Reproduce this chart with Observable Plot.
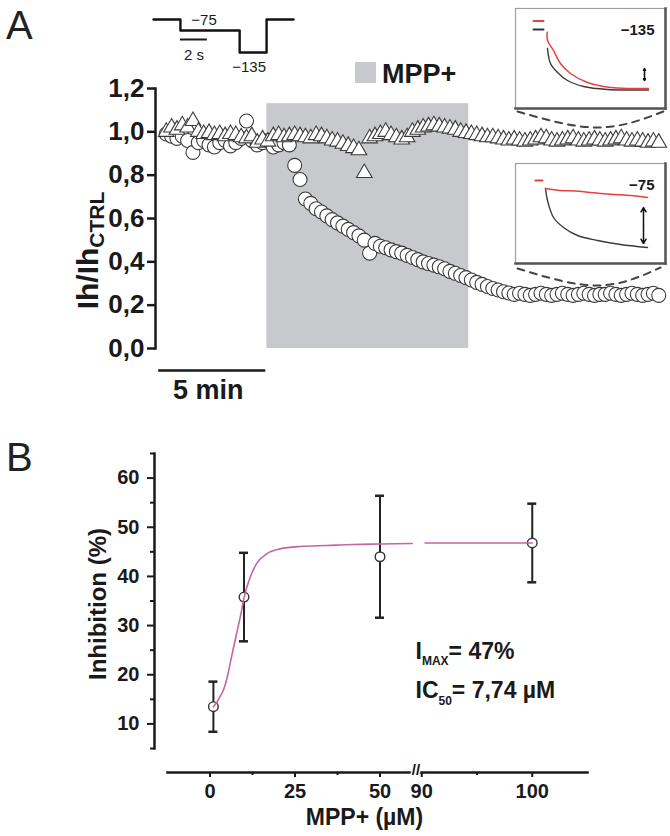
<!DOCTYPE html>
<html><head><meta charset="utf-8">
<script src="https://cdn.jsdelivr.net/npm/d3@7"></script>
<script src="https://cdn.jsdelivr.net/npm/@observablehq/plot@0.6"></script>
<style>
html,body{margin:0;padding:0;background:#fff;}
#fig{position:relative;width:670px;height:836px;overflow:hidden;font-family:Arial,"Liberation Sans",sans-serif;color:#1a1a1a;}
#fig svg{position:absolute;left:0;top:0;}
.plabel{position:absolute;font-size:40px;line-height:1;color:#222;}
.leg{position:absolute;line-height:1;font-weight:bold;font-size:27px;}
.legsq{position:absolute;background:#c8c9cc;}
</style></head><body><div id="fig">
<div class="plabel" style="left:6px;top:5px;">A</div>
<div class="plabel" style="left:6px;top:437px;">B</div>
<div class="legsq" style="left:355px;top:62px;width:21px;height:21px;"></div>
<div class="leg" style="left:382px;top:61px;">MPP+</div>
</div>
<script>
// ---------- Panel A: Ih/IhCTRL time course ----------
const timeMin = [
 0.35,0.6,0.85,1.1,1.35,1.6,1.85,2.1,2.35,2.6,
 2.85,3.1,3.35,3.6,3.85,4.1,4.35,4.6,4.85,5.1,
 5.35,5.6,5.85,6.1,6.35,6.6,6.85,7.1,7.35,7.6,
 7.85,8.1,8.35,8.6,8.85,9.1,9.35,9.6,9.85,10.1,
 10.35,10.6,10.85,11.1,11.35,11.6,11.85,12.1,12.35,12.6,
 12.85,13.1,13.35,13.6,13.85,14.1,14.35,14.6,14.85,15.1,
 15.35,15.6,15.85,16.1,16.35,16.6,16.85,17.1,17.35,17.6,
 17.85,18.1,18.35,18.6,18.85,19.1,19.35,19.6,19.85,20.1,
 20.35,20.6,20.85,21.1,21.35,21.6,21.85,22.1,22.35,22.6,
 22.85,23.1,23.35];
const ihCircles = [
 0.99,0.98,0.97,0.98,0.96,0.905,0.95,0.96,0.94,0.93,
 0.95,0.96,0.935,0.95,0.97,1.05,0.96,0.94,0.95,0.96,
 0.93,0.94,0.95,0.94,0.845,0.78,0.69,0.67,0.645,0.63,
 0.612,0.595,0.58,0.565,0.55,0.535,0.52,0.50,0.44,0.485,
 0.472,0.465,0.455,0.447,0.44,0.43,0.42,0.41,0.40,0.392,
 0.385,0.377,0.368,0.356,0.347,0.337,0.327,0.316,0.305,0.296,
 0.286,0.277,0.27,0.262,0.256,0.25,0.255,0.25,0.245,0.25,
 0.255,0.25,0.245,0.25,0.255,0.25,0.245,0.25,0.255,0.25,
 0.245,0.25,0.25,0.255,0.25,0.245,0.25,0.255,0.25,0.245,
 0.25,0.255,0.245];
const ihTriangles = [
 1.0,1.02,1.01,1.03,1.02,1.05,1.0,0.99,0.995,0.985,
 0.99,0.98,0.99,0.985,0.975,0.97,0.98,0.95,0.965,0.955,
 0.98,0.985,0.975,0.98,0.985,0.98,0.975,0.97,0.985,0.98,
 0.97,0.96,0.955,0.945,0.935,0.925,0.915,0.81,0.97,0.98,
 0.99,1.0,0.985,0.975,0.965,0.975,1.0,1.01,1.02,1.025,
 1.03,1.025,1.02,1.015,1.01,1.0,0.995,0.99,0.985,0.98,
 0.975,0.975,0.97,0.965,0.96,0.965,0.96,0.955,0.96,0.965,
 0.975,0.97,0.96,0.955,0.96,0.965,0.97,0.96,0.955,0.96,
 0.965,0.96,0.955,0.96,0.965,0.97,0.96,0.955,0.96,0.955,
 0.95,0.955,0.95];
const mppWindow = [{start: 5.05, end: 14.48, low: 0, high: 1.13}];
const yTicksA = [0, 0.2, 0.4, 0.6, 0.8, 1.0, 1.2];
const scaleBarA = [{from: 0, to: 5, label: "5 min"}];

// voltage protocol (s, mV)
const protocolT = [0, 2, 6.4, 8.4, 10.4];
const protocolV = [-45, -75, -135, -45, -45];
const twoSecBar = [{from: 2, to: 4, level: -75, label: "2 s"}];

// inset current traces (arbitrary units)
const tr135Pre = [{x:18,v:-12.5,c:"red"},{x:28,v:-12.5,c:"red"},{x:18,v:-21,c:"black"},{x:28,v:-21,c:"black"}];
const tr135Red = [{x:31.7,v:-23.7},{x:32,v:-32},{x:38,v:-42},{x:45,v:-55},{x:55,v:-65},{x:72,v:-74},{x:95,v:-79},{x:115,v:-80},{x:133,v:-80}];
const tr135Black = [{x:32,v:-40},{x:35,v:-55},{x:42,v:-64},{x:52,v:-72},{x:68,v:-78},{x:92,v:-81},{x:115,v:-81.5},{x:133,v:-81.5}];
const tr75Pre = [{x:20,v:-17,c:"red"},{x:27,v:-17,c:"red"}];
const tr75Red = [{x:30,v:-25},{x:45,v:-27},{x:60,v:-27.5},{x:70,v:-28.5},{x:85,v:-30},{x:100,v:-31},{x:115,v:-32},{x:125,v:-33},{x:132,v:-34}];
const tr75Black = [{x:30,v:-25},{x:32,v:-37},{x:38,v:-54},{x:48,v:-64},{x:62,v:-72},{x:82,v:-77},{x:105,v:-81},{x:132,v:-84}];
const dash135 = [{x:2,v:-103},{x:82,v:-119},{x:148,v:-103}];
const dash75 = [{x:2,v:-105},{x:82,v:-122},{x:145,v:-104}];
const arrow135 = [{x:129,from:-66,to:-60},{x:129,from:-66,to:-72}];
const arrow75 = [{x:128,from:-62,to:-44},{x:128,from:-62,to:-80}];

// ---------- Panel B: dose-response ----------
const doseB = [1, 10, 50, 100];
const inhibB = [13.5, 35.8, 44, 46.8];
const semB = [5.1, 9, 12.4, 8];
const fitDose = [1, 2, 3, 3.9, 5, 5.9, 7, 7.8, 9.3, 10, 11.8, 13.7, 16.7, 20.6, 26.5, 34.3, 42, 50, 59.5, 90.3, 100];
const fitInhib = [13.5, 14.4, 15.6, 16.8, 19.3, 22.2, 25.8, 28.3, 33.1, 35.6, 39.8, 42.6, 44.6, 45.6, 46.1, 46.3, 46.5, 46.6, 46.7, 46.8, 46.8];
const fitSeg = [1,1,1,1,1,1,1,1,1,1,1,1,1,1,1,1,1,1,1,2,2];
const yTicksB = [10, 20, 30, 40, 50, 60];
const yMinorB = [5, 15, 25, 35, 45, 55, 65];
const xTicksB = [0, 25, 50, 90, 100];
const xMinorB = [12.5, 37.5, 95];
const xBreakB = [61, 89.7];
const xEndsB = [-12.5, 105];

// ---------- rendering ----------
const FONT = 'Arial, "Liberation Sans", sans-serif';
const fig = document.getElementById("fig");
const base = {width: 670, height: 836, style: {background: "transparent", overflow: "visible", fontFamily: FONT, color: "#1a1a1a"}};
const add = p => { fig.appendChild(p); return p; };
const fmtComma = d => d.toFixed(1).replace(".", ",");
function rich(svg, key, parts) {
  d3.select(svg).selectAll(`g[aria-description="${key}"] text`).each(function() {
    const t = d3.select(this);
    t.text(null);
    for (const p of parts) {
      const s = t.append("tspan").text(p.s).attr("font-size", p.size);
      if (p.dy) s.attr("dy", p.dy);
    }
  });
}

const circData = timeMin.map((t, i) => ({t, v: ihCircles[i]}));
const triData = timeMin.map((t, i) => ({t, v: ihTriangles[i]}));

const plotA = add(Plot.plot({
  ...base,
  marginLeft: 155, marginRight: 0, marginTop: 88, marginBottom: 488,
  x: {domain: [-0.15, 23.9], axis: null},
  y: {domain: [0, 1.2]},
  marks: [
    Plot.rect(mppWindow, {x1: "start", x2: "end", y1: "low", y2: "high", fill: "#c8c9cc"}),
    Plot.dot(circData, {x: "t", y: "v", r: 7, fill: "white", stroke: "#3a3a3a", strokeWidth: 1.1}),
    Plot.dot(triData, {x: "t", y: "v", symbol: "triangle", r: 5.8, fill: "white", stroke: "#3a3a3a", strokeWidth: 1.1}),
    Plot.frame({anchor: "left", strokeWidth: 2.5}),
    Plot.axisY({ticks: yTicksA, tickSize: 8, tickPadding: 3, tickFormat: fmtComma, fontSize: 26, fontWeight: "bold", strokeWidth: 2.5, label: null}),
    Plot.ruleY(scaleBarA, {x1: "from", x2: "to", y: d => 0, dy: 22, strokeWidth: 2.5}),
    Plot.text(scaleBarA, {x: d => (d.from + d.to) / 2, y: d => 0, dx: -4, dy: 42, text: "label", fontSize: 27, fontWeight: "bold"}),
    Plot.text(["Ih/IhCTRL"], {frameAnchor: "left", textAnchor: "middle", dx: -67, dy: 32, rotate: -90, fontSize: 30, fontWeight: "bold", ariaDescription: "ylabA"})
  ]
}));
rich(plotA, "ylabA", [{s: "Ih/Ih", size: 30}, {s: "CTRL", size: 21, dy: 6}]);

const protoData = protocolT.map((t, i) => ({t, v: protocolV[i]}));
const stepMid = i => (protocolT[i] + protocolT[i + 1]) / 2;
add(Plot.plot({
  ...base,
  x: {domain: [0, 10.4], range: [153, 293], axis: null},
  y: {domain: [-135, -45], range: [52, 19], axis: null},
  marks: [
    Plot.line(protoData, {x: "t", y: "v", curve: "step-after", strokeWidth: 2.4, stroke: "#111"}),
    Plot.ruleY(twoSecBar, {x1: "from", x2: "to", y: "level", dy: 9, strokeWidth: 2}),
    Plot.text(twoSecBar, {x: d => (d.from + d.to) / 2, y: "level", dy: 25, text: "label", fontSize: 15}),
    Plot.text([{t: stepMid(1), v: protocolV[1]}], {x: "t", y: "v", text: d => "\u2212" + Math.abs(d.v), dx: -6, dy: -10, fontSize: 15}),
    Plot.text([{t: stepMid(2), v: protocolV[2]}], {x: "t", y: "v", text: d => "\u2212" + Math.abs(d.v), dx: -4, dy: 15, fontSize: 15})
  ]
}));

function inset(top, pre, red, black, dash, arrows, label) {
  return Plot.plot({
    ...base,
    marginLeft: 515, marginRight: 5, marginTop: top, marginBottom: 836 - top - 100,
    x: {domain: [0, 150], axis: null},
    y: {domain: [-100, 0], axis: null},
    marks: [
      Plot.frame({fill: "white", stroke: "#a0a0a0", strokeWidth: 1.2}),
      Plot.frame({anchor: "right", stroke: "#555", strokeWidth: 2.5}),
      Plot.frame({anchor: "bottom", stroke: "#555", strokeWidth: 2.5}),
      Plot.line(pre, {x: "x", y: "v", z: "c", stroke: d => d.c === "red" ? "#e8413b" : "#333", strokeWidth: 2}),
      Plot.line(black, {x: "x", y: "v", stroke: "#3a3a3a", strokeWidth: 1.4, curve: "catmull-rom"}),
      Plot.line(red, {x: "x", y: "v", stroke: "#e8413b", strokeWidth: 1.5, curve: "catmull-rom"}),
      Plot.arrow(arrows, {x1: "x", x2: "x", y1: "from", y2: "to", headLength: 5, strokeWidth: 1.5, stroke: "#111"}),
      Plot.text([label], {frameAnchor: "top-right", dx: -11, dy: 16, textAnchor: "end", fontSize: 15, fontWeight: "bold"}),
      Plot.line(dash, {x: "x", y: "v", stroke: "#444", strokeWidth: 2, strokeDasharray: "7,6", curve: "natural"})
    ]
  });
}
add(inset(8, tr135Pre, tr135Red, tr135Black, dash135, arrow135, "\u2212135"));
add(inset(163, tr75Pre, tr75Red, tr75Black, dash75, arrow75, "\u221275"));

// Panel B: broken x axis (compressed gap between xBreakB[0] and xBreakB[1])
const rightStretch = 3.25;
const brk = d => d <= xBreakB[0] ? d
  : d >= xBreakB[1] ? xBreakB[0] + 0.3 + (d - xBreakB[1]) * rightStretch
  : xBreakB[0] + (d - xBreakB[0]) / (xBreakB[1] - xBreakB[0]) * 0.3;
const xScaleB = {transform: brk, domain: [brk(xEndsB[0]), brk(xEndsB[1])], range: [167, 587]};
// axis marks receive already-broken positions; labels map back to the doses
const tickLabelB = new Map(xTicksB.map(d => [brk(d), String(d)]));

const bData = doseB.map((d, i) => ({dose: d, mean: inhibB[i], lo: inhibB[i] - semB[i], hi: inhibB[i] + semB[i]}));
const fitData = fitDose.map((d, i) => ({dose: d, inh: fitInhib[i], seg: fitSeg[i]}));
const plotB = add(Plot.plot({
  ...base,
  marginLeft: 154, marginRight: 83, marginTop: 453, marginBottom: 88,
  x: {...xScaleB, axis: null},
  y: {domain: [5, 65]},
  marks: [
    Plot.frame({anchor: "left", strokeWidth: 2.5}),
    Plot.axisY({ticks: yTicksB, tickSize: 7, tickPadding: 8, fontSize: 20, fontWeight: "bold", strokeWidth: 2, label: null}),
    Plot.axisY({ticks: yMinorB, tickSize: 4, tickFormat: () => "", strokeWidth: 2, label: null}),
    Plot.text(["Inhibition (%)"], {frameAnchor: "left", textAnchor: "middle", dx: -56, dy: 3, rotate: -90, fontSize: 24, fontWeight: "bold"}),
    Plot.ruleX(bData, {x: "dose", y1: "lo", y2: "hi", strokeWidth: 2, stroke: "#222"}),
    Plot.ruleY(bData, {y: "hi", x1: "dose", x2: "dose", insetLeft: -4.5, insetRight: -4.5, strokeWidth: 2.5, stroke: "#222"}),
    Plot.ruleY(bData, {y: "lo", x1: "dose", x2: "dose", insetLeft: -4.5, insetRight: -4.5, strokeWidth: 2.5, stroke: "#222"}),
    Plot.dot(bData, {x: "dose", y: "mean", r: 4.8, fill: "white", stroke: "#333", strokeWidth: 1.4}),
    Plot.line(fitData, {x: "dose", y: "inh", z: "seg", stroke: "#c4669f", strokeWidth: 1.6, curve: "monotone-x"}),
    Plot.text(["IMAX= 47%"], {frameAnchor: "top-left", dx: 261, dy: 189, textAnchor: "start", fontSize: 23, fontWeight: "bold", ariaDescription: "annImax"}),
    Plot.text(["IC50= 7,74 \u00b5M"], {frameAnchor: "top-left", dx: 261, dy: 228, textAnchor: "start", fontSize: 23, fontWeight: "bold", ariaDescription: "annIC50"})
  ]
}));
rich(plotB, "annImax", [{s: "I", size: 23}, {s: "MAX", size: 12, dy: 6}, {s: "= 47%", size: 23, dy: -6}]);
rich(plotB, "annIC50", [{s: "IC", size: 23}, {s: "50", size: 12, dy: 7}, {s: "= 7,74 \u00b5M", size: 23, dy: -7}]);

add(Plot.plot({
  ...base,
  marginLeft: 167, marginRight: 83, marginTop: 700, marginBottom: 64,
  x: {...xScaleB},
  marks: [
    Plot.frame({anchor: "bottom", strokeWidth: 2.5}),
    Plot.axisX({ticks: xTicksB.map(brk), tickSize: 5, tickPadding: 6, tickFormat: v => tickLabelB.get(v), fontSize: 20, fontWeight: "bold", strokeWidth: 2, label: null}),
    Plot.axisX({ticks: xMinorB.map(brk), tickSize: 3, tickFormat: () => "", strokeWidth: 2, label: null}),
    Plot.text([(xBreakB[0] + xBreakB[1]) / 2], {x: d => d, frameAnchor: "bottom", lineAnchor: "middle", dx: -2, dy: -2, text: () => "//", fontSize: 15, fontWeight: "bold", stroke: "white", strokeWidth: 3, fill: "#111", paintOrder: "stroke"}),
    Plot.text(["MPP+ (\u00b5M)"], {frameAnchor: "bottom", lineAnchor: "middle", dx: -13, dy: 45, fontSize: 23, fontWeight: "bold"})
  ]
}));
</script></body></html>
